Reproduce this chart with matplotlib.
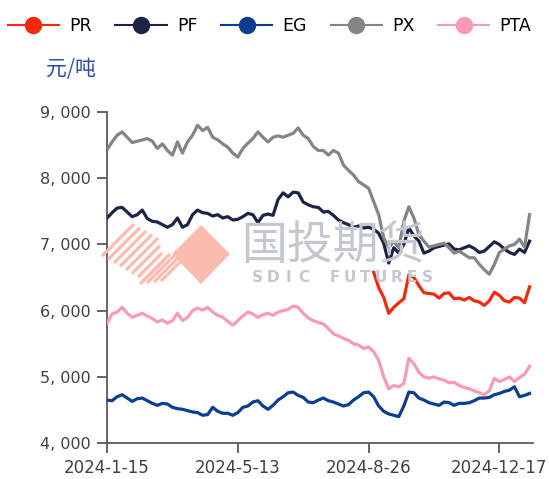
import matplotlib
matplotlib.use("Agg")
import matplotlib.pyplot as plt
from matplotlib.patches import Polygon
from matplotlib.lines import Line2D

plt.rcParams['font.family'] = ['DejaVu Sans', 'Noto Sans CJK SC']

series_names = ["PR", "PF", "EG", "PX", "PTA"]
colors = {"PR": "#f52a0c", "PF": "#1c2346", "EG": "#0b3d91", "PX": "#858585", "PTA": "#f99bb2"}

tick_labels = ["2024-1-15", "2024-5-13", "2024-8-26", "2024-12-17"]
tick_index = [0, 26, 52, 78]

px = [8430, 8550, 8650, 8700, 8620, 8540, 8560, 8580, 8600, 8560,
      8450, 8520, 8420, 8350, 8550, 8380, 8550, 8650, 8800, 8720,
      8770, 8620, 8580, 8520, 8470, 8380, 8320, 8450, 8530, 8600,
      8700, 8620, 8550, 8620, 8640, 8620, 8650, 8680, 8760, 8650,
      8600, 8480, 8420, 8420, 8350, 8420, 8380, 8200, 8120, 8050,
      7950, 7900, 7850, 7650, 7450, 7100, 6950, 7050, 6950, 7350,
      7570, 7400, 7150, 7050, 6960, 6980, 7000, 7020, 6950, 6870,
      6900, 6850, 6800, 6800, 6700, 6620, 6550, 6700, 6880, 6930,
      6980, 7000, 7080, 6960, 7450]

pf = [7400, 7480, 7550, 7560, 7490, 7420, 7450, 7520, 7390, 7350,
      7340, 7300, 7260, 7300, 7400, 7260, 7300, 7450, 7520, 7480,
      7470, 7430, 7450, 7400, 7420, 7370, 7380, 7420, 7470, 7450,
      7330, 7440, 7460, 7440, 7680, 7780, 7720, 7790, 7780, 7640,
      7600, 7570, 7560, 7490, 7500, 7440, 7370, 7330, 7300, 7260,
      7280, 7250, 7260, 7230, 7170, 7020, 6720, 6950, 6870, 7000,
      7250, 7130, 7050, 6870, 6900, 6950, 6970, 6990, 7010, 6930,
      6920, 6950, 6980, 6940, 6880, 6900, 6970, 7040, 7000, 6930,
      6880, 6850, 6930, 6880, 7050]

pr_start = 53
pr = [6580, 6350, 6200, 5960, 6050, 6120, 6180, 6540, 6500, 6380,
      6270, 6260, 6250, 6190, 6260, 6270, 6180, 6190, 6160, 6200,
      6150, 6130, 6080, 6150, 6280, 6230, 6150, 6130, 6200, 6190,
      6120, 6360]

pta = [5810, 5950, 5980, 6050, 5960, 5900, 5930, 5960, 5920, 5880,
       5830, 5860, 5810, 5850, 5960, 5850, 5900, 6000, 6040, 6010,
       6050, 5980, 5930, 5900, 5840, 5780, 5850, 5920, 5980, 5950,
       5900, 5940, 5960, 5930, 5980, 6000, 6020, 6070, 6050, 5960,
       5890, 5850, 5820, 5800, 5730, 5650, 5620, 5580, 5550, 5500,
       5480, 5430, 5450, 5380, 5250, 5000, 4820, 4870, 4850, 4900,
       5280, 5200, 5070, 5000, 4980, 5000, 4970, 4950, 4910, 4920,
       4870, 4840, 4820, 4790, 4760, 4730, 4790, 4980, 4930, 4960,
       5000, 4930, 4990, 5040, 5160]

eg = [4650, 4640, 4700, 4730, 4680, 4630, 4670, 4680, 4640, 4600,
      4570, 4600, 4590, 4540, 4520, 4510, 4490, 4470, 4460, 4420,
      4430, 4540, 4480, 4450, 4450, 4420, 4460, 4540, 4560, 4620,
      4640, 4560, 4510, 4570, 4650, 4700, 4760, 4770, 4720, 4690,
      4620, 4610, 4650, 4680, 4640, 4620, 4590, 4560, 4580, 4650,
      4700, 4760, 4770, 4700, 4560, 4480, 4440, 4420, 4400, 4560,
      4770, 4760, 4680, 4650, 4610, 4590, 4570, 4620, 4610, 4570,
      4600, 4600, 4610, 4640, 4680, 4680, 4690, 4730, 4750, 4780,
      4800, 4850, 4700, 4720, 4750]

yticks = [4000, 5000, 6000, 7000, 8000, 9000]

fig = plt.figure(figsize=(5.49, 4.79), dpi=100)
ax = fig.add_axes([0.195, 0.075, 0.776, 0.691])

# watermark (figure pixel coords -> fraction)
W, H = 549, 479
def fx(x): return x / W
def fy(y): return 1 - y / H
wm_pink = "#f9bcae"
wm_gray = "#c4c7cf"
diamond = Polygon([(fx(201), fy(225)), (fx(230), fy(254)), (fx(201), fy(284)), (fx(172), fy(254))],
                  closed=True, transform=fig.transFigure, facecolor=wm_pink, edgecolor="none", zorder=0)
fig.patches.append(diamond)
for k in range(8):
    x0 = 102 + k * 6
    y0 = 256 + k * 3.5
    L = 32 if k < 5 else 32 - (k - 4) * 4
    fig.lines.append(Line2D([fx(x0), fx(x0 + L)], [fy(y0), fy(y0 - L)], transform=fig.transFigure,
                            color=wm_pink, lw=2.3, zorder=0, solid_capstyle="butt"))
for k in range(4):
    x0 = 140 + k * 7
    y0 = 284 - k * 1
    fig.lines.append(Line2D([fx(x0), fx(x0 + 30)], [fy(y0), fy(y0 - 30)], transform=fig.transFigure,
                            color=wm_pink, lw=2.3, zorder=0, solid_capstyle="butt"))
fig.text(fx(241), fy(246), "国投期货", fontsize=33, color=wm_gray, va="center", ha="left",
         family=["Noto Sans CJK SC"], zorder=0)
for k, ch in enumerate("SDIC FUTURES"):
    fig.text(fx(257 + 15.5 * k), fy(277), ch, fontsize=11, color=wm_gray, va="center",
             ha="center", fontweight="bold", zorder=0)

x_all = list(range(len(px)))
ax.plot(x_all, pf, color=colors["PF"], lw=2.3, zorder=3)
ax.plot(x_all, px, color=colors["PX"], lw=2.3, zorder=3)
ax.plot(x_all, eg, color=colors["EG"], lw=2.3, zorder=3)
ax.plot(x_all, pta, color=colors["PTA"], lw=2.3, zorder=3)
ax.plot(list(range(pr_start, pr_start + len(pr))), pr, color=colors["PR"], lw=2.3, zorder=3)

ax.set_xlim(0, 84.7)
ax.set_ylim(4000, 9000)
ax.set_yticks(yticks)
ax.set_yticklabels([f"{v:,}".replace(",", ", ") for v in yticks], fontsize=11.5, color="#404040")
ax.set_xticks(tick_index)
ax.set_xticklabels(tick_labels, fontsize=12, color="#404040")
ax.patch.set_alpha(0)
for s in ["top", "right"]:
    ax.spines[s].set_visible(False)
for s in ["left", "bottom"]:
    ax.spines[s].set_color("#595959")
    ax.spines[s].set_linewidth(1.3)
ax.tick_params(axis="both", direction="out", length=7.5, width=1.3, color="#595959", pad=4)

handles = [Line2D([0], [0], color=colors[n], lw=1.5, marker="o", markersize=11.5) for n in series_names]
fig.legend(handles, series_names, loc="center left", bbox_to_anchor=(-0.008, fy(26)), ncol=5,
           frameon=False, fontsize=12.5, handlelength=2.95, columnspacing=1.35, handletextpad=0.6,
           borderaxespad=0.3)
fig.text(fx(46), fy(69), "元/吨", fontsize=15, color="#2e4d9c", va="center", ha="left",
         family=["Noto Sans CJK SC"])

fig.savefig("out.png", dpi=100)
